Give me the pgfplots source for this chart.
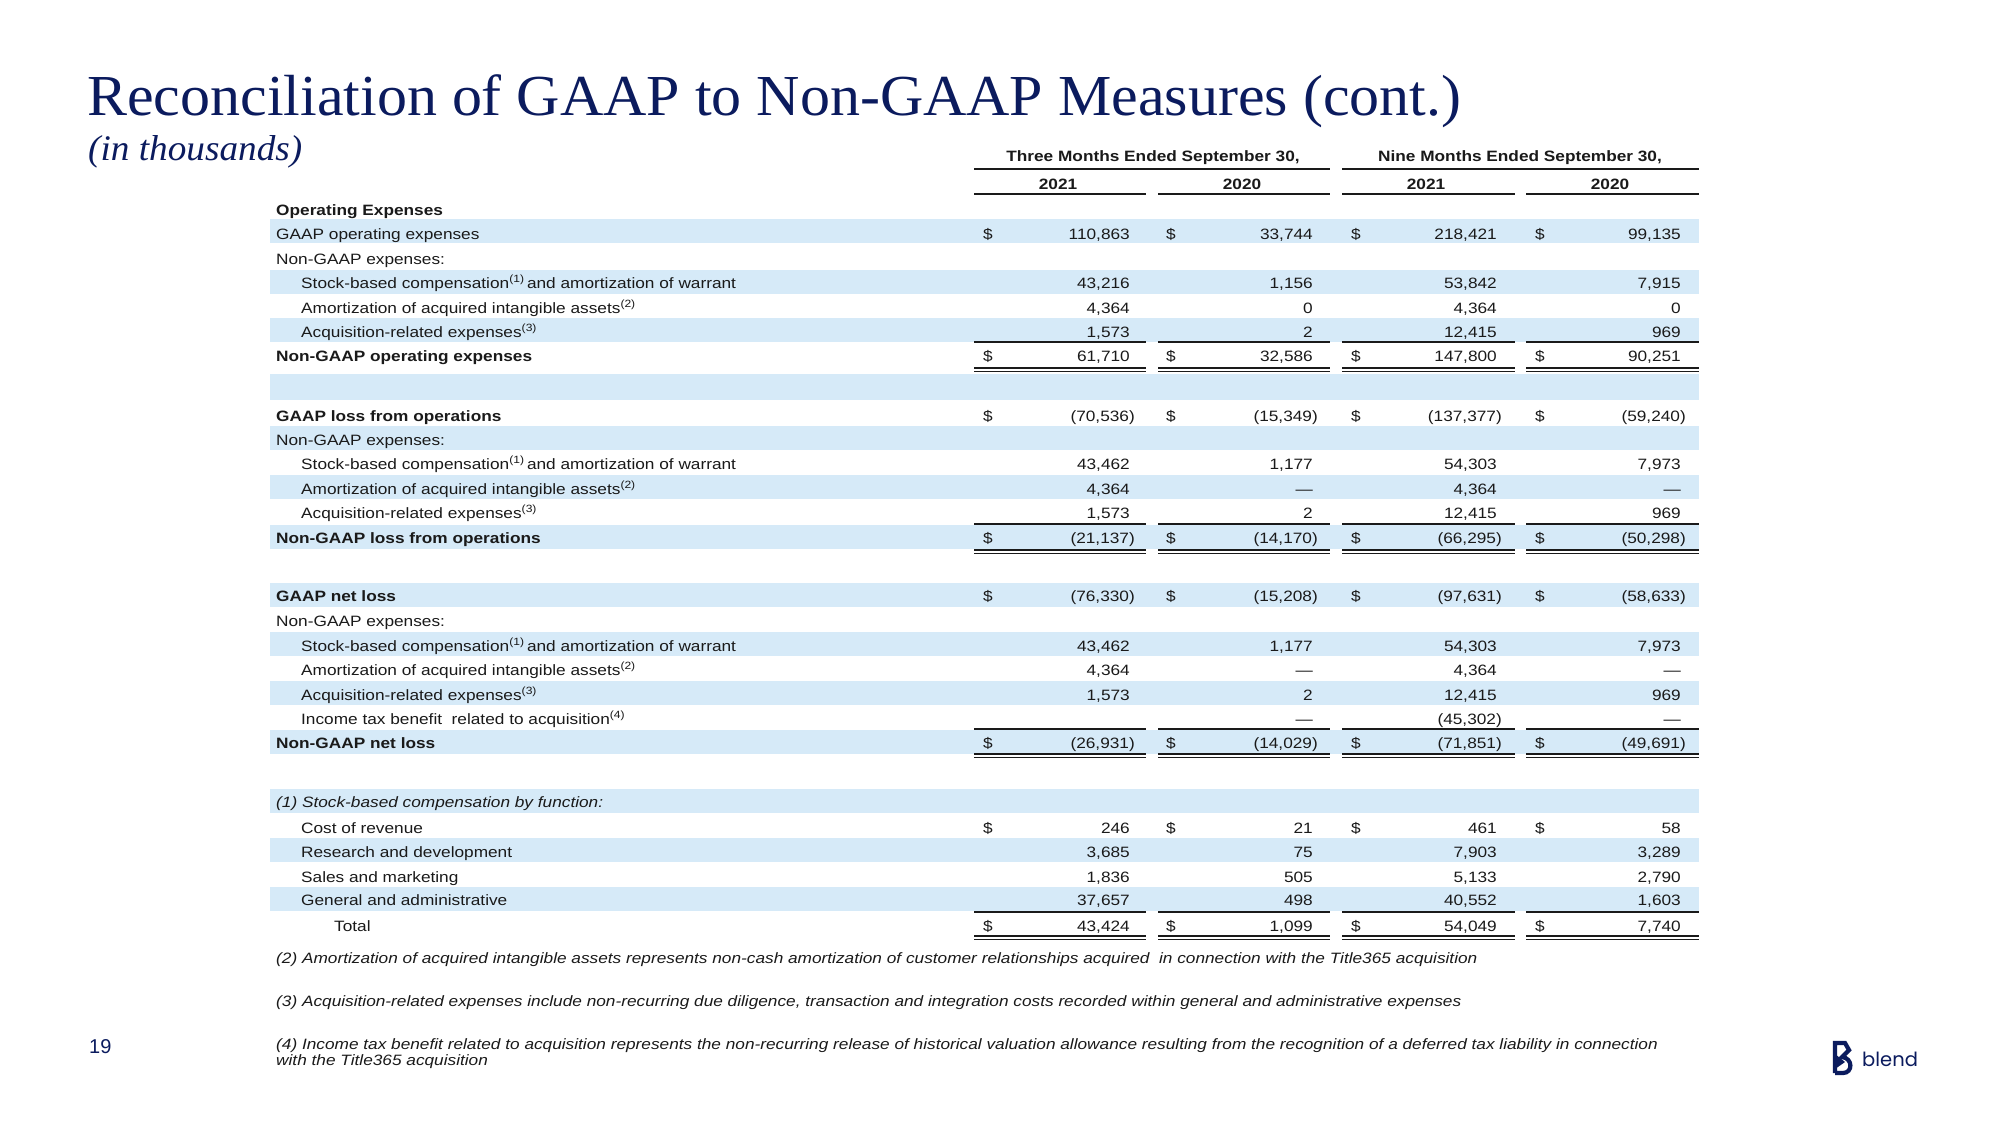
\documentclass[border=0pt]{standalone}
\usepackage{fontspec}
\setmainfont[FakeStretch=1.15]{Liberation Sans}
\newfontfamily\plainfont{Liberation Sans}
\newfontfamily\titlefont[FakeStretch=1.034]{Liberation Serif}
\newfontfamily\logofont{Poppins}
\usepackage{pgfplots}
\pgfplotsset{compat=1.18}
\usepackage{pgfplotstable}
\definecolor{navy}{HTML}{0B1B5E}
\definecolor{band}{HTML}{D6EAF8}
\definecolor{ink}{HTML}{1A1A1A}
\newcommand\tf{\fontsize{15}{18}\selectfont}

% column 1: Three months 2021
\pgfplotstableread{
x y t
1130 239 110,863
1130 288 43,216
1130 313 4,364
1130 337 1,573
1130 361 61,710
1135 421 (70,536)
1130 469 43,462
1130 494 4,364
1130 518 1,573
1135 543 (21,137)
1135 601 (76,330)
1130 651 43,462
1130 675 4,364
1130 700 1,573
1135 748 (26,931)
1130 833 246
1130 857 3,685
1130 882 1,836
1130 905 37,657
1130 931 43,424
}\colA
% column 2: Three months 2020
\pgfplotstableread{
x y t
1313 239 33,744
1313 288 1,156
1313 313 0
1313 337 2
1313 361 32,586
1318 421 (15,349)
1313 469 1,177
1313 494 —
1313 518 2
1318 543 (14,170)
1318 601 (15,208)
1313 651 1,177
1313 675 —
1313 700 2
1313 724 —
1318 748 (14,029)
1313 833 21
1313 857 75
1313 882 505
1313 905 498
1313 931 1,099
}\colB
% column 3: Nine months 2021
\pgfplotstableread{
x y t
1497 239 218,421
1497 288 53,842
1497 313 4,364
1497 337 12,415
1497 361 147,800
1502 421 (137,377)
1497 469 54,303
1497 494 4,364
1497 518 12,415
1502 543 (66,295)
1502 601 (97,631)
1497 651 54,303
1497 675 4,364
1497 700 12,415
1502 724 (45,302)
1502 748 (71,851)
1497 833 461
1497 857 7,903
1497 882 5,133
1497 905 40,552
1497 931 54,049
}\colC
% column 4: Nine months 2020
\pgfplotstableread{
x y t
1681 239 99,135
1681 288 7,915
1681 313 0
1681 337 969
1681 361 90,251
1686 421 (59,240)
1681 469 7,973
1681 494 —
1681 518 969
1686 543 (50,298)
1686 601 (58,633)
1681 651 7,973
1681 675 —
1681 700 969
1681 724 —
1686 748 (49,691)
1681 833 58
1681 857 3,289
1681 882 2,790
1681 905 1,603
1681 931 7,740
}\colD
% dollar signs
\pgfplotstableread{
x y
983 239
1166 239
1351 239
1535 239
983 361
1166 361
1351 361
1535 361
983 421
1166 421
1351 421
1535 421
983 543
1166 543
1351 543
1535 543
983 601
1166 601
1351 601
1535 601
983 748
1166 748
1351 748
1535 748
983 833
1166 833
1351 833
1535 833
983 931
1166 931
1351 931
1535 931
}\dollars

\begin{document}
\begin{tikzpicture}
\begin{axis}[
  width=2000pt, height=1125pt, scale only axis,
  xmin=0, xmax=2000, ymin=0, ymax=1125, y dir=reverse,
  hide axis, clip=false,
  numcell/.style={draw=none, mark=none, nodes near coords, point meta=explicit symbolic,
    every node near coord/.append style={anchor=base east, inner sep=0pt, font=\tf, text=ink}},
]
% background
\fill[white] (axis cs:0,0) rectangle (axis cs:2000,1125);
% bands
\foreach \a/\b in {219/243,270/294,318/342,374/400,426/450,475/499,525/549,583/607,632/656,681/705,730/754,789/813,838/862,887/911}{
  \edef\tmp{\noexpand\fill[band] (axis cs:270,\a) rectangle (axis cs:1699,\b);}\tmp
}
% title
\node[anchor=base west, inner sep=0pt, text=navy, font=\titlefont\fontsize{58}{60}\selectfont] at (axis cs:87,115) {Reconciliation of GAAP to Non-GAAP Measures (cont.)};
\node[anchor=base west, inner sep=0pt, text=navy, font=\titlefont\itshape\fontsize{36}{40}\selectfont] at (axis cs:88,160) {(in thousands)};
% header
\node[anchor=base, inner sep=0pt, font=\tf\bfseries, text=ink] at (axis cs:1153,161) {Three Months Ended September 30,};
\node[anchor=base, inner sep=0pt, font=\tf\bfseries, text=ink] at (axis cs:1520,161) {Nine Months Ended September 30,};
\node[anchor=base, inner sep=0pt, font=\tf\bfseries, text=ink] at (axis cs:1058,189) {2021};
\node[anchor=base, inner sep=0pt, font=\tf\bfseries, text=ink] at (axis cs:1242,189) {2020};
\node[anchor=base, inner sep=0pt, font=\tf\bfseries, text=ink] at (axis cs:1426,189) {2021};
\node[anchor=base, inner sep=0pt, font=\tf\bfseries, text=ink] at (axis cs:1610,189) {2020};
\draw[line width=1.3pt, ink] (axis cs:974,169) -- (axis cs:1330,169);
\draw[line width=1.3pt, ink] (axis cs:1342,169) -- (axis cs:1699,169);
% column segment lines
\foreach \l/\r in {974/1146,1158/1330,1342/1515,1526/1699}{
  \edef\tmp{\noexpand\draw[line width=1.3pt, ink] (axis cs:\l,194) -- (axis cs:\r,194);}\tmp
  \foreach \s in {342,524,729,912}{
    \edef\tmp{\noexpand\draw[line width=1.6pt, ink] (axis cs:\l,\s) -- (axis cs:\r,\s);}\tmp
  }
  \foreach \d in {368,371.6,550,553.6,754,757.6,936,939.6}{
    \edef\tmp{\noexpand\draw[line width=1.2pt, ink] (axis cs:\l,\d) -- (axis cs:\r,\d);}\tmp
  }
}
% row labels
\tikzset{lab/.style={anchor=base west, inner sep=0pt, font=\tf, text=ink}}
\node[lab, font=\tf\bfseries] at (axis cs:276,215) {Operating Expenses};
\node[lab] at (axis cs:276,239) {GAAP operating expenses};
\node[lab] at (axis cs:276,264) {Non-GAAP expenses:};
\node[lab] at (axis cs:301,288) {Stock-based compensation\textsuperscript{(1)}\,and amortization of warrant};
\node[lab] at (axis cs:301,313) {Amortization of acquired intangible assets\textsuperscript{(2)}};
\node[lab] at (axis cs:301,337) {Acquisition-related expenses\textsuperscript{(3)}};
\node[lab, font=\tf\bfseries] at (axis cs:276,361) {Non-GAAP operating expenses};
\node[lab, font=\tf\bfseries] at (axis cs:276,421) {GAAP loss from operations};
\node[lab] at (axis cs:276,445) {Non-GAAP expenses:};
\node[lab] at (axis cs:301,469) {Stock-based compensation\textsuperscript{(1)}\,and amortization of warrant};
\node[lab] at (axis cs:301,494) {Amortization of acquired intangible assets\textsuperscript{(2)}};
\node[lab] at (axis cs:301,518) {Acquisition-related expenses\textsuperscript{(3)}};
\node[lab, font=\tf\bfseries] at (axis cs:276,543) {Non-GAAP loss from operations};
\node[lab, font=\tf\bfseries] at (axis cs:276,601) {GAAP net loss};
\node[lab] at (axis cs:276,626) {Non-GAAP expenses:};
\node[lab] at (axis cs:301,651) {Stock-based compensation\textsuperscript{(1)}\,and amortization of warrant};
\node[lab] at (axis cs:301,675) {Amortization of acquired intangible assets\textsuperscript{(2)}};
\node[lab] at (axis cs:301,700) {Acquisition-related expenses\textsuperscript{(3)}};
\node[lab] at (axis cs:301,724) {Income tax benefit \ related to acquisition\textsuperscript{(4)}};
\node[lab, font=\tf\bfseries] at (axis cs:276,748) {Non-GAAP net loss};
\node[lab, font=\tf\itshape] at (axis cs:276,807) {(1) Stock-based compensation by function:};
\node[lab] at (axis cs:301,833) {Cost of revenue};
\node[lab] at (axis cs:301,857) {Research and development};
\node[lab] at (axis cs:301,882) {Sales and marketing};
\node[lab] at (axis cs:301,905) {General and administrative};
\node[lab] at (axis cs:334,931) {Total};
% values
\addplot[numcell] table[x=x, y=y, meta=t] {\colA};
\addplot[numcell] table[x=x, y=y, meta=t] {\colB};
\addplot[numcell] table[x=x, y=y, meta=t] {\colC};
\addplot[numcell] table[x=x, y=y, meta=t] {\colD};
\addplot[draw=none, mark=none, nodes near coords={\$},
  every node near coord/.append style={anchor=base west, inner sep=0pt, font=\tf, text=ink}]
  table[x=x, y=y] {\dollars};
% footnotes
\tikzset{fn/.style={anchor=base west, inner sep=0pt, font=\fontsize{15}{16}\selectfont\itshape, text=ink}}
\node[fn] at (axis cs:276,963) {(2) Amortization of acquired intangible assets represents non-cash amortization of customer relationships acquired \ in connection with the Title365 acquisition};
\node[fn] at (axis cs:276,1006) {(3) Acquisition-related expenses include non-recurring due diligence, transaction and integration costs recorded within general and administrative expenses};
\node[fn] at (axis cs:276,1049) {(4) Income tax benefit related to acquisition represents the non-recurring release of historical valuation allowance resulting from the recognition of a deferred tax liability in connection};
\node[fn] at (axis cs:276,1065) {with the Title365 acquisition};
% page number
\node[anchor=base west, inner sep=0pt, text=navy, font=\plainfont\fontsize{20}{20}\selectfont] at (axis cs:89,1053) {19};
% logo
\draw[navy, line width=4.2pt, line join=miter] (axis cs:1835,1073) -- (axis cs:1835,1043) -- (axis cs:1845,1043) -- (axis cs:1849,1050) -- (axis cs:1842,1057) .. controls (axis cs:1853,1058) and (axis cs:1853,1073) .. (axis cs:1843,1073) -- (axis cs:1835,1073);
\fill[navy] (axis cs:1835,1054) -- (axis cs:1845,1062) -- (axis cs:1835,1069) -- cycle;
\node[anchor=base west, inner sep=0pt, text=navy, font=\logofont\fontsize{19.5}{20}\selectfont] at (axis cs:1862,1066) {blend};
\end{axis}
\end{tikzpicture}
\end{document}
